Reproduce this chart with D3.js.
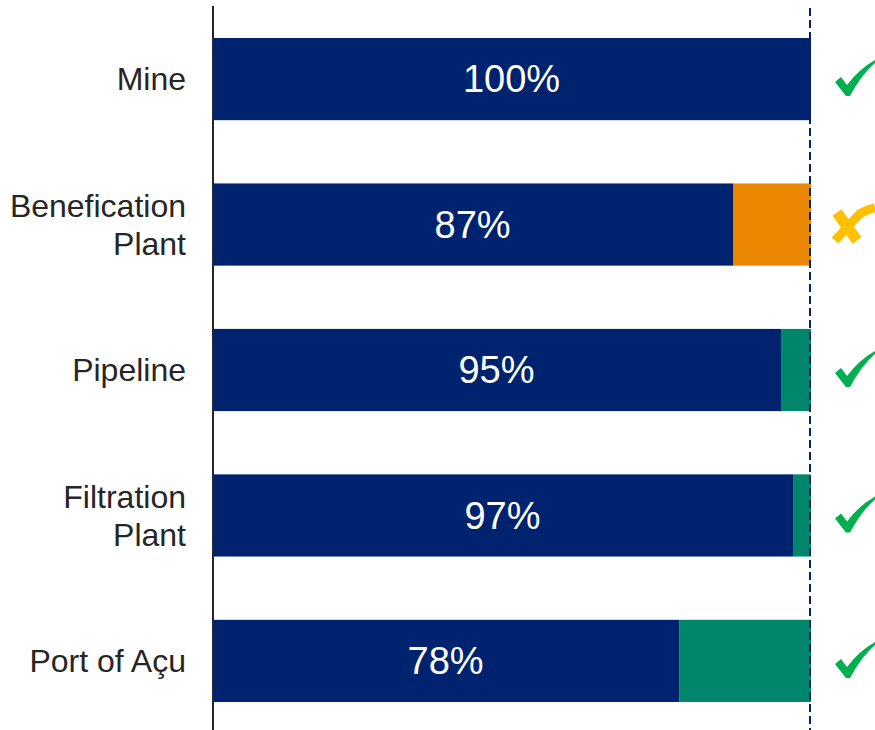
<!DOCTYPE html>
<html>
<head>
<meta charset="utf-8">
<script src="https://cdn.jsdelivr.net/npm/d3@7"></script>
<style>
  html, body { margin: 0; padding: 0; background: #ffffff; }
  svg { display: block; font-family: "Liberation Sans", Arial, sans-serif; }
</style>
</head>
<body>
<svg id="chart" width="875" height="730"></svg>
<script>
// ---- data ----
const categories = ["Mine", "Benefication\nPlant", "Pipeline", "Filtration\nPlant", "Port of Açu"];
const achieved = [100, 87, 95, 97, 78];
const gapColorKey = ["none", "orange", "teal", "teal", "teal"];
const status = ["ok", "warn", "ok", "ok", "ok"];
const xDomainMax = 100;

// ---- styles ----
const colors = {
  navy: "#00236F",
  orange: "#EA8600",
  teal: "#00876B",
  check: "#00B050",
  warn: "#FFC000",
  text: "#262626",
  axis: "#262626"
};

const svg = d3.select("#chart");

const x = d3.scaleLinear().domain([0, xDomainMax]).range([212, 811]);
const y = d3.scaleBand().domain(categories).range([38, 702]).paddingInner(0.435).paddingOuter(0);

const rows = categories.map((c, i) => ({
  cat: c, val: achieved[i], gap: xDomainMax - achieved[i], gapColor: gapColorKey[i], status: status[i]
}));

// gap bars
svg.selectAll("rect.gap").data(rows.filter(d => d.gap > 0)).join("rect")
  .attr("class", "gap")
  .attr("x", d => x(d.val))
  .attr("y", d => y(d.cat))
  .attr("width", d => x(xDomainMax) - x(d.val))
  .attr("height", y.bandwidth())
  .attr("fill", d => colors[d.gapColor]);

// achieved bars
svg.selectAll("rect.val").data(rows).join("rect")
  .attr("class", "val")
  .attr("x", x(0))
  .attr("y", d => y(d.cat))
  .attr("width", d => x(d.val) - x(0))
  .attr("height", y.bandwidth())
  .attr("fill", colors.navy);

// value labels
svg.selectAll("text.val").data(rows).join("text")
  .attr("class", "val")
  .attr("x", d => (x(0) + x(d.val)) / 2)
  .attr("y", d => y(d.cat) + y.bandwidth() / 2)
  .attr("dy", "0.35em")
  .attr("text-anchor", "middle")
  .attr("fill", "#ffffff")
  .attr("font-size", 38)
  .text(d => d.val + "%");

// y axis line
svg.append("line")
  .attr("x1", 213).attr("x2", 213)
  .attr("y1", 6).attr("y2", 730)
  .attr("stroke", colors.axis).attr("stroke-width", 2);

// 100% dashed reference line
svg.append("line")
  .attr("x1", x(xDomainMax) - 1).attr("x2", x(xDomainMax) - 1)
  .attr("y1", 8).attr("y2", 730)
  .attr("stroke", colors.navy).attr("stroke-width", 2)
  .attr("stroke-dasharray", "8,4");

// category labels
rows.forEach(d => {
  const lines = d.cat.split("\n");
  const cy = y(d.cat) + y.bandwidth() / 2;
  const lh = 38;
  const t = svg.append("text")
    .attr("text-anchor", "end")
    .attr("fill", colors.text)
    .attr("font-size", 32);
  lines.forEach((ln, j) => {
    t.append("tspan")
      .attr("x", 186)
      .attr("y", cy + (j - (lines.length - 1) / 2) * lh)
      .attr("dy", "0.35em")
      .text(ln);
  });
});

// status marks
rows.forEach(d => {
  const cy = y(d.cat) + y.bandwidth() / 2;
  if (d.status === "ok") {
    svg.append("path")
      .attr("transform", `translate(835,${cy - 19})`)
      .attr("d", "M0,22 L6,17 L12,25 Q24,9 40,0 L40,3 Q27,14 15,36 L11,36 Z")
      .attr("fill", colors.check);
  } else {
    const g = svg.append("g").attr("transform", `translate(833,${cy - 15})`);
    g.append("path")
      .attr("d", "M4,3 L24,31")
      .attr("stroke", colors.warn).attr("stroke-width", 11).attr("fill", "none");
    g.append("path")
      .attr("d", "M2,31 L27,4 Q34,0 42,-2")
      .attr("stroke", colors.warn).attr("stroke-width", 9).attr("fill", "none")
      .attr("stroke-linejoin", "round");
  }
});
</script>
</body>
</html>
